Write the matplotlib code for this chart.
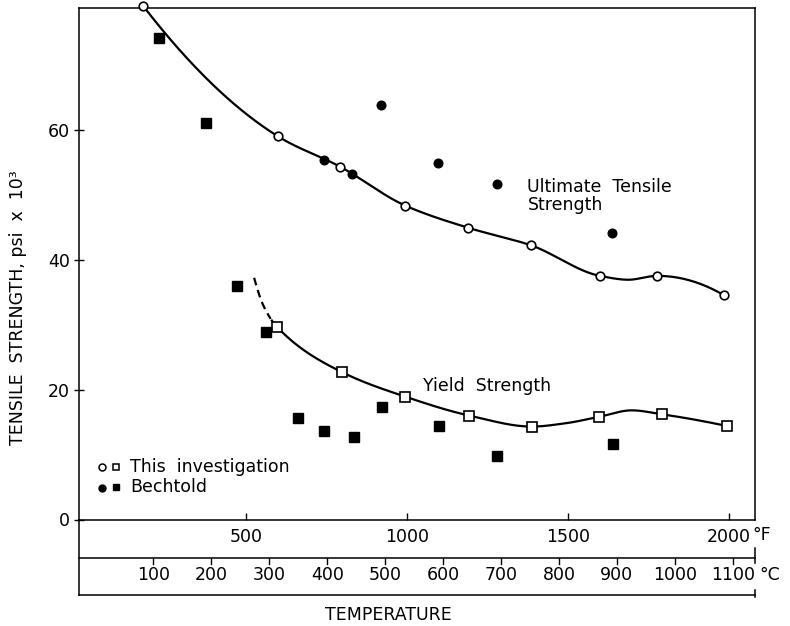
import matplotlib.pyplot as plt
import numpy as np

plt.rcParams["font.family"] = "DejaVu Sans"
plt.rcParams["font.size"] = 12.5

# ── data: temperature in °F, strength in psi x 10^3 ──────────────────────────
uts_this_F = [181, 598, 792, 995, 1190, 1385, 1599, 1777, 1985]
uts_this = [79.0, 59.0, 54.3, 48.3, 44.9, 42.2, 37.5, 37.5, 34.5]
uts_bech_F = [742, 830, 920, 1095, 1278, 1638]
uts_bech = [55.4, 53.2, 63.8, 54.9, 51.6, 44.1]

ys_this_F = [595, 797, 995, 1193, 1388, 1596, 1791, 1993]
ys_this = [29.7, 22.7, 18.9, 16.0, 14.3, 15.8, 16.2, 14.4]
ys_bech_F = [228, 377, 473, 562, 660, 742, 836, 923, 1100, 1280, 1641]
ys_bech = [74.1, 61.0, 35.9, 28.8, 15.6, 13.6, 12.7, 17.3, 14.4, 9.7, 11.6]

# hand-drawn fitted curves
uts_curve_F = [181, 598, 792, 995, 1190, 1385, 1599, 1688, 1777, 1985]
uts_curve = [79.0, 59.0, 54.3, 48.3, 44.9, 42.2, 37.5, 36.9, 37.5, 34.5]
ys_curve_F = [525, 554, 595, 797, 995, 1193, 1388, 1491, 1596, 1698, 1791, 1993]
ys_curve = [37.2, 32.9, 29.7, 22.7, 18.9, 16.0, 14.3, 14.8, 15.8, 16.8, 16.2, 14.4]
ys_dashed_until = 578

f_ticks = [500, 1000, 1500, 2000]
c_ticks = [100, 200, 300, 400, 500, 600, 700, 800, 900, 1000, 1100]
y_ticks = [0, 20, 40, 60]


def smooth(xk, yk, num=400):
    # shape-preserving cubic (pchip) through the traced knots
    x = np.asarray(xk, float)
    y = np.asarray(yk, float)
    n = len(x)
    h = np.diff(x)
    delta = np.diff(y) / h
    d = np.zeros(n)
    for k in range(1, n - 1):
        if delta[k - 1] * delta[k] > 0:
            w1 = 2 * h[k] + h[k - 1]
            w2 = h[k] + 2 * h[k - 1]
            d[k] = (w1 + w2) / (w1 / delta[k - 1] + w2 / delta[k])

    def end(h0, h1, d0, d1):
        v = ((2 * h0 + h1) * d0 - h0 * d1) / (h0 + h1)
        if np.sign(v) != np.sign(d0):
            return 0.0
        if np.sign(d0) != np.sign(d1) and abs(v) > abs(3 * d0):
            return 3 * d0
        return v

    d[0] = end(h[0], h[1], delta[0], delta[1])
    d[-1] = end(h[-1], h[-2], delta[-1], delta[-2])

    xs = np.linspace(x[0], x[-1], num)
    i = np.clip(np.searchsorted(x, xs) - 1, 0, n - 2)
    t = (xs - x[i]) / h[i]
    h00 = 2 * t ** 3 - 3 * t ** 2 + 1
    h10 = t ** 3 - 2 * t ** 2 + t
    h01 = -2 * t ** 3 + 3 * t ** 2
    h11 = t ** 3 - t ** 2
    ys = h00 * y[i] + h10 * h[i] * d[i] + h01 * y[i + 1] + h11 * h[i] * d[i + 1]
    return xs, ys


W, H = 790, 626
fig = plt.figure(figsize=(W / 100, H / 100), dpi=100)

left, right, top, zero, sep, bottom = 79, 755, 7.5, 519.5, 558, 595
ax = fig.add_axes([left / W, (H - zero) / H, (right - left) / W, (zero - top) / H])
ax_low = fig.add_axes([left / W, (H - bottom) / H, (right - left) / W, (bottom - zero) / H])

xlim = (-19, 2081)
ax.set_xlim(*xlim)
ax.set_ylim(0, 78.8)
ax_low.set_xlim(*xlim)
ax_low.set_ylim(0, 1)

lw_axis = 1.1
for s in ax.spines.values():
    s.set_linewidth(lw_axis)

# — curves —
xs, ys = smooth(uts_curve_F, uts_curve)
ax.plot(xs, ys, color="black", lw=1.6, zorder=2)

xs, ys = smooth(ys_curve_F, ys_curve)
dash = xs <= ys_dashed_until
ax.plot(xs[dash], ys[dash], color="black", lw=1.6, ls=(0, (3.5, 2.2)), zorder=2)
ax.plot(xs[~dash], ys[~dash], color="black", lw=1.6, zorder=2)

# — points —
ax.plot(uts_this_F, uts_this, "o", ms=6.2, mfc="white", mec="black", mew=1.2,
        clip_on=False, zorder=3)
ax.plot(uts_bech_F, uts_bech, "o", ms=6.2, mfc="black", mec="black", zorder=3)
ax.plot(ys_this_F, ys_this, "s", ms=6.8, mfc="white", mec="black", mew=1.2, zorder=3)
ax.plot(ys_bech_F, ys_bech, "s", ms=6.8, mfc="black", mec="black", zorder=3)

# — labels inside plot —
ax.text(1373, 51.15, "Ultimate  Tensile", va="center", ha="left")
ax.text(1376, 48.4, "Strength", va="center", ha="left")
ax.text(1050, 20.5, "Yield  Strength", va="center", ha="left")

# — legend —
ax.plot(0.0336, 0.1025, "o", ms=5, mfc="white", mec="black", mew=1.1, transform=ax.transAxes)
ax.plot(0.0547, 0.1035, "s", ms=5, mfc="white", mec="black", mew=1.1, transform=ax.transAxes)
ax.plot(0.0336, 0.0625, "o", ms=5, mfc="black", mec="black", transform=ax.transAxes)
ax.plot(0.0547, 0.0635, "s", ms=5, mfc="black", mec="black", transform=ax.transAxes)
ax.text(0.0754, 0.1025, "This  investigation", transform=ax.transAxes, va="center")
ax.text(0.0754, 0.0625, "Bechtold", transform=ax.transAxes, va="center")

# — axes ticks —
ax.set_yticks(y_ticks)
ax.set_yticklabels([str(v) for v in y_ticks])
ax.tick_params(axis="y", direction="inout", length=7, width=1, pad=3)
ax.set_xticks(f_ticks)
ax.set_xticklabels([str(v) for v in f_ticks])
ax.tick_params(axis="x", direction="in", length=5, width=1, pad=6)

# — lower temperature scales —
ax_low.axis("off")
ax_low.plot([xlim[0], xlim[0]], [0, 1], color="black", lw=lw_axis, clip_on=False)
ax_low.plot(xlim, [0, 0], color="black", lw=lw_axis, clip_on=False)
y_sep = (bottom - sep) / (bottom - zero)
ax_low.plot(xlim, [y_sep, y_sep], color="black", lw=lw_axis, clip_on=False)
tick_len = 6 / (bottom - zero)
y_c = (bottom - 575) / (bottom - zero)
for c in c_ticks:
    f = c * 9 / 5 + 32
    ax_low.plot([f, f], [y_sep, y_sep - tick_len], color="black", lw=1)
    ax_low.text(f, y_c, str(c), ha="center", va="center")
ax_low.plot([xlim[1], xlim[1]], [y_sep + 10 / 75.5, y_sep - 5 / 75.5], color="black",
            lw=lw_axis, clip_on=False)
ax_low.plot([xlim[1], xlim[1]], [5 / 75.5, -2 / 75.5], color="black", lw=lw_axis, clip_on=False)

fig.text(752 / W, (H - 535) / H, "°F", ha="left", va="center")
fig.text(759 / W, (H - 575) / H, "°C", ha="left", va="center")

fig.text(18 / W, (H - 308) / H, "TENSILE  STRENGTH, psi  x  10³", rotation=90,
         ha="center", va="center")
fig.text(388 / W, (H - 615) / H, "TEMPERATURE", ha="center", va="center")

fig.savefig("out.png", dpi=100)
